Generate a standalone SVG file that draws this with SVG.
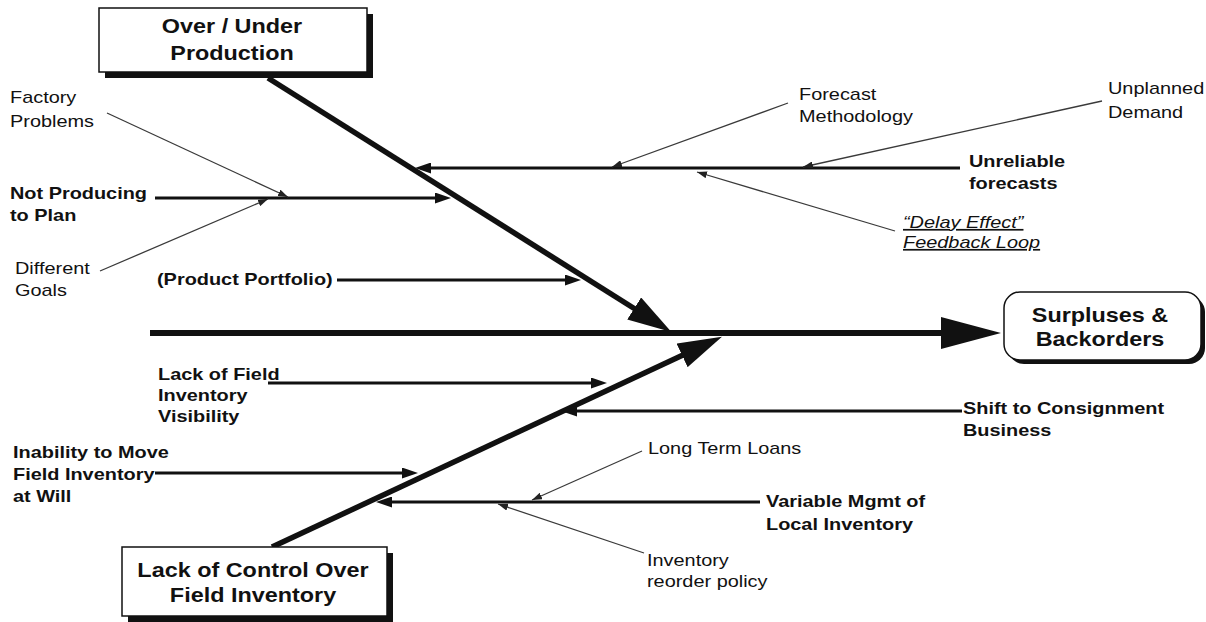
<svg xmlns="http://www.w3.org/2000/svg" width="1206" height="622" viewBox="0 0 1206 622">
  <style>
    text { font-family: "Liberation Sans", Arial, sans-serif; fill: #111; }
    .b { font-size: 17px; font-weight: bold; }
    .r { font-size: 17px; }
    .it { font-style: italic; text-decoration: underline; }
    .bx { font-size: 20px; font-weight: bold; text-anchor: middle; }
    .box { fill: #fff; stroke: #111; stroke-width: 1.5; }
    .shadow { fill: #111; }
    .spine { stroke: #111; stroke-width: 6; fill: none; }
    .diag { stroke: #111; stroke-width: 5.5; fill: none; }
    .bone { stroke: #111; stroke-width: 3; fill: none; }
    .thin { stroke: #3a3a3a; stroke-width: 1.3; fill: none; }
  </style>
  <defs>
    <marker id="spineHead" markerUnits="userSpaceOnUse" viewBox="0 0 60 32" refX="1" refY="16" markerWidth="60" markerHeight="32" orient="auto">
      <path d="M0,0 L60,16 L0,32 z" fill="#111"/>
    </marker>
    <marker id="diagHead" markerUnits="userSpaceOnUse" viewBox="0 0 44 26" refX="1" refY="13" markerWidth="44" markerHeight="26" orient="auto">
      <path d="M0,0 L44,13 L0,26 z" fill="#111"/>
    </marker>
    <marker id="boneHead" markerUnits="userSpaceOnUse" viewBox="0 0 16 11" refX="1" refY="5.5" markerWidth="16" markerHeight="11" orient="auto">
      <path d="M0,0 L16,5.5 L0,11 z" fill="#111"/>
    </marker>
    <marker id="tipHead" markerUnits="userSpaceOnUse" viewBox="0 0 10 7" refX="10" refY="3.5" markerWidth="10" markerHeight="7" orient="auto">
      <path d="M0,0 L10,3.5 L0,7 z" fill="#222"/>
    </marker>
  </defs>

  <!-- connectors: spine, main bones, sub-causes -->
  <g id="connectors">
    <line class="spine" x1="150" y1="333" x2="942" y2="333" marker-end="url(#spineHead)"/>
    <line class="diag" x1="268" y1="78" x2="635" y2="309" marker-end="url(#diagHead)"/>
    <line class="diag" x1="272" y1="547" x2="683" y2="355" marker-end="url(#diagHead)"/>

    <line class="bone" x1="960" y1="168" x2="430" y2="168" marker-end="url(#boneHead)"/>
    <line class="bone" x1="155" y1="198" x2="436" y2="198" marker-end="url(#boneHead)"/>
    <line class="bone" x1="337" y1="280" x2="566" y2="280" marker-end="url(#boneHead)"/>
    <line class="bone" x1="268" y1="383" x2="592" y2="383" marker-end="url(#boneHead)"/>
    <line class="bone" x1="962" y1="411" x2="576" y2="411" marker-end="url(#boneHead)"/>
    <line class="bone" x1="155" y1="473" x2="403" y2="473" stroke-width="2" marker-end="url(#boneHead)"/>
    <line class="bone" x1="760" y1="502" x2="391" y2="502" marker-end="url(#boneHead)"/>

    <line class="thin" x1="107" y1="113" x2="288" y2="197" marker-end="url(#tipHead)"/>
    <line class="thin" x1="100" y1="271" x2="268" y2="199" marker-end="url(#tipHead)"/>
    <line class="thin" x1="788" y1="103" x2="612" y2="167" marker-end="url(#tipHead)"/>
    <line class="thin" x1="1102" y1="101" x2="803" y2="167" marker-end="url(#tipHead)"/>
    <line class="thin" x1="895" y1="231" x2="697" y2="172" marker-end="url(#tipHead)"/>
    <line class="thin" x1="642" y1="451" x2="532" y2="500" marker-end="url(#tipHead)"/>
    <line class="thin" x1="644" y1="553" x2="498" y2="504" marker-end="url(#tipHead)"/>
  </g>

  <!-- category boxes and effect -->
  <g id="over-under-production">
    <rect class="shadow" x="105" y="14" width="268" height="64"/>
    <rect class="box" x="99" y="8" width="268" height="64"/>
    <text class="bx" transform="translate(232,33) scale(1.17,1)"><tspan x="0">Over / Under</tspan><tspan x="0" dy="27">Production</tspan></text>
  </g>

  <g id="lack-of-control">
    <rect class="shadow" x="128" y="553" width="265" height="69"/>
    <rect class="box" x="122" y="547" width="265" height="69"/>
    <text class="bx" transform="translate(253,577) scale(1.17,1)"><tspan x="0">Lack of Control Over</tspan><tspan x="0" dy="25">Field Inventory</tspan></text>
  </g>

  <g id="surpluses-backorders">
    <rect class="shadow" x="1008" y="296" width="197" height="68" rx="16"/>
    <rect class="box" x="1004" y="292" width="197" height="68" rx="16"/>
    <text class="bx" transform="translate(1100,322) scale(1.17,1)"><tspan x="0">Surpluses &amp;</tspan><tspan x="0" dy="24">Backorders</tspan></text>
  </g>

  <!-- cause labels -->
  <g id="not-producing">
    <text class="b" transform="translate(10,199) scale(1.17,1)"><tspan x="0">Not Producing</tspan><tspan x="0" dy="22">to Plan</tspan></text>
  </g>
  <g id="factory-problems">
    <text class="r" transform="translate(10,103) scale(1.17,1)"><tspan x="0">Factory</tspan><tspan x="0" dy="24">Problems</tspan></text>
  </g>
  <g id="different-goals">
    <text class="r" transform="translate(15,274) scale(1.17,1)"><tspan x="0">Different</tspan><tspan x="0" dy="22">Goals</tspan></text>
  </g>
  <g id="product-portfolio">
    <text class="b" transform="translate(157,285) scale(1.17,1)">(Product Portfolio)</text>
  </g>
  <g id="unreliable-forecasts">
    <text class="b" transform="translate(969,167) scale(1.17,1)"><tspan x="0">Unreliable</tspan><tspan x="0" dy="22">forecasts</tspan></text>
  </g>
  <g id="forecast-methodology">
    <text class="r" transform="translate(799,100) scale(1.17,1)"><tspan x="0">Forecast</tspan><tspan x="0" dy="22">Methodology</tspan></text>
  </g>
  <g id="unplanned-demand">
    <text class="r" transform="translate(1108,94) scale(1.17,1)"><tspan x="0">Unplanned</tspan><tspan x="0" dy="24">Demand</tspan></text>
  </g>
  <g id="delay-effect">
    <text class="r it" transform="translate(903,228) scale(1.17,1)"><tspan x="0">“Delay Effect”</tspan><tspan x="0" dy="20">Feedback Loop</tspan></text>
  </g>
  <g id="field-visibility">
    <text class="b" transform="translate(158,380) scale(1.17,1)"><tspan x="0">Lack of Field</tspan><tspan x="0" dy="21">Inventory</tspan><tspan x="0" dy="21">Visibility</tspan></text>
  </g>
  <g id="inability-to-move">
    <text class="b" transform="translate(13,458) scale(1.17,1)"><tspan x="0">Inability to Move</tspan><tspan x="0" dy="22">Field Inventory</tspan><tspan x="0" dy="22">at Will</tspan></text>
  </g>
  <g id="shift-to-consignment">
    <text class="b" transform="translate(963,414) scale(1.17,1)"><tspan x="0">Shift to Consignment</tspan><tspan x="0" dy="22">Business</tspan></text>
  </g>
  <g id="variable-mgmt">
    <text class="b" transform="translate(766,507) scale(1.17,1)" font-size="18"><tspan x="0">Variable Mgmt of</tspan><tspan x="0" dy="23">Local Inventory</tspan></text>
  </g>
  <g id="long-term-loans">
    <text class="r" transform="translate(648,454) scale(1.17,1)">Long Term Loans</text>
  </g>
  <g id="reorder-policy">
    <text class="r" transform="translate(647,566) scale(1.17,1)"><tspan x="0">Inventory</tspan><tspan x="0" dy="21">reorder policy</tspan></text>
  </g>
</svg>
